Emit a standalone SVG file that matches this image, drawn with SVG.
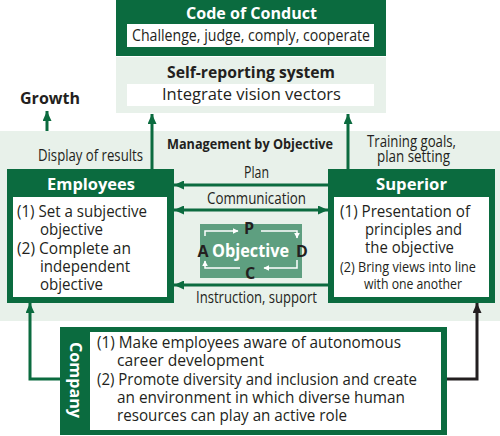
<svg xmlns="http://www.w3.org/2000/svg" width="500" height="436" viewBox="0 0 500 436">
<defs>
<style>
text{font-family:"Open Sans","Noto Sans","Liberation Sans",sans-serif;fill:#231f20}
.t{font-size:16px}
.s{font-size:15px}
.b{font-weight:bold}
.w{fill:#fff}
.c{text-anchor:middle}
.dk{fill:#0b6b3f}
.lt{fill:#e8f1ea}
.wh{fill:#fff}
.ln{stroke:#0b6b3f;stroke-width:3;fill:none}
.wl{stroke:#fff;stroke-width:1.5;fill:none}
</style>
<marker id="ag" viewBox="0 0 10 9" refX="10" refY="4.5" markerUnits="userSpaceOnUse" markerWidth="10" markerHeight="9" orient="auto-start-reverse"><path d="M0,0 L10,4.5 L0,9 z" fill="#0b6b3f"/></marker>
<marker id="ak" viewBox="0 0 10 9" refX="10" refY="4.5" markerUnits="userSpaceOnUse" markerWidth="10" markerHeight="9" orient="auto"><path d="M0,0 L10,4.5 L0,9 z" fill="#231f20"/></marker>
<marker id="aw" viewBox="0 0 10 10" refX="9" refY="5" markerWidth="4" markerHeight="4" orient="auto"><path d="M0,0 L10,5 L0,10 z" fill="#fff"/></marker>
</defs>
<rect x="0" y="131" width="500" height="190" class="lt"/>
<g id="code">
<rect x="116" y="0" width="270" height="56" class="dk"/>
<rect x="127" y="24" width="247" height="23" class="wh"/>
<text x="186" y="19" class="t b w" textLength="131" lengthAdjust="spacingAndGlyphs">Code of Conduct</text>
<text x="132" y="41" class="t" textLength="238" lengthAdjust="spacingAndGlyphs">Challenge, judge, comply, cooperate</text>
</g>
<g id="selfreport">
<rect x="116" y="57" width="270" height="56" class="lt"/>
<rect x="127" y="84" width="247" height="22" class="wh"/>
<text x="167" y="78" class="t b" textLength="168" lengthAdjust="spacingAndGlyphs">Self-reporting system</text>
<text x="162" y="100" class="t" textLength="179" lengthAdjust="spacingAndGlyphs">Integrate vision vectors</text>
</g>
<g id="growth"><text x="20" y="104" class="t b" textLength="60" lengthAdjust="spacingAndGlyphs">Growth</text></g>
<g id="labels">
<text x="167" y="149" class="s b" textLength="166" lengthAdjust="spacingAndGlyphs">Management by Objective</text>
<text x="38" y="161" class="t" textLength="105" lengthAdjust="spacingAndGlyphs">Display of results</text>
<text x="367" y="147" class="t" textLength="89" lengthAdjust="spacingAndGlyphs">Training goals,</text>
<text x="377" y="162" class="t" textLength="73" lengthAdjust="spacingAndGlyphs">plan setting</text>
<text x="244" y="178" class="t" textLength="25" lengthAdjust="spacingAndGlyphs">Plan</text>
<text x="207" y="204" class="t" textLength="99" lengthAdjust="spacingAndGlyphs">Communication</text>
<text x="196" y="303" class="t" textLength="121" lengthAdjust="spacingAndGlyphs">Instruction, support</text>
</g>
<g id="employees">
<rect x="7" y="169" width="167" height="134" class="dk"/>
<rect x="13" y="197" width="154" height="100" class="wh"/>
<text x="47" y="190" class="t b w" textLength="88" lengthAdjust="spacingAndGlyphs">Employees</text>
<text x="17" y="217" class="t" textLength="130" lengthAdjust="spacingAndGlyphs">(1) Set a subjective</text>
<text x="40" y="235" class="t" textLength="63" lengthAdjust="spacingAndGlyphs">objective</text>
<text x="17" y="254" class="t" textLength="114" lengthAdjust="spacingAndGlyphs">(2) Complete an</text>
<text x="40" y="272" class="t" textLength="90" lengthAdjust="spacingAndGlyphs">independent</text>
<text x="40" y="290" class="t" textLength="63" lengthAdjust="spacingAndGlyphs">objective</text>
</g>
<g id="superior">
<rect x="328" y="169" width="167" height="134" class="dk"/>
<rect x="334" y="197" width="155" height="100" class="wh"/>
<text x="376" y="190" class="t b w" textLength="71" lengthAdjust="spacingAndGlyphs">Superior</text>
<text x="340" y="217" class="t" textLength="130" lengthAdjust="spacingAndGlyphs">(1) Presentation of</text>
<text x="365" y="235" class="t" textLength="97" lengthAdjust="spacingAndGlyphs">principles and</text>
<text x="365" y="253" class="t" textLength="89" lengthAdjust="spacingAndGlyphs">the objective</text>
<text x="340" y="272" class="s" textLength="136" lengthAdjust="spacingAndGlyphs">(2) Bring views into line</text>
<text x="364" y="289" class="s" textLength="98" lengthAdjust="spacingAndGlyphs">with one another</text>
</g>
<g id="objective">
<rect x="200" y="224" width="102" height="54" fill="#5e9f80"/>
<text x="212" y="257" class="b w" font-size="18" textLength="77" lengthAdjust="spacingAndGlyphs">Objective</text>
<text x="249" y="234" class="t b c">P</text>
<text x="203" y="257" class="t b c">A</text>
<text x="302" y="257" class="t b c">D</text>
<text x="250" y="279" class="t b c">C</text>
<path d="M205,236 V231 H238" class="wl" marker-end="url(#aw)"/>
<path d="M261,231 H297 V238" class="wl" marker-end="url(#aw)"/>
<path d="M297,260 V268 H264" class="wl" marker-end="url(#aw)"/>
<path d="M240,268 H205 V261" class="wl" marker-end="url(#aw)"/>
</g>
<g id="company">
<rect x="60" y="327" width="387" height="108" class="dk"/>
<rect x="90" y="332" width="351" height="98" class="wh"/>
<text transform="translate(70,380) rotate(90)" class="t b w c" textLength="76" lengthAdjust="spacingAndGlyphs">Company</text>
<text x="97" y="348" class="t" textLength="304" lengthAdjust="spacingAndGlyphs">(1) Make employees aware of autonomous</text>
<text x="117" y="366" class="t" textLength="147" lengthAdjust="spacingAndGlyphs">career development</text>
<text x="97" y="385" class="t" textLength="320" lengthAdjust="spacingAndGlyphs">(2) Promote diversity and inclusion and create</text>
<text x="117" y="403" class="t" textLength="288" lengthAdjust="spacingAndGlyphs">an environment in which diverse human</text>
<text x="117" y="421" class="t" textLength="230" lengthAdjust="spacingAndGlyphs">resources can play an active role</text>
</g>
<g id="connectors">
<path d="M47,131 V111" class="ln" marker-end="url(#ag)"/>
<path d="M152,169 V114" class="ln" marker-end="url(#ag)"/>
<path d="M348,169 V114" class="ln" marker-end="url(#ag)"/>
<path d="M328,185 H174" class="ln" marker-end="url(#ag)"/>
<path d="M174,210 H328" class="ln" marker-start="url(#ag)" marker-end="url(#ag)"/>
<path d="M328,285 H174" class="ln" marker-end="url(#ag)"/>
<path d="M60,379 H30 V303" class="ln" marker-end="url(#ag)"/>
<path d="M447,379 H477 V303" stroke="#231f20" stroke-width="3" fill="none" marker-end="url(#ak)"/>
</g>
</svg>
